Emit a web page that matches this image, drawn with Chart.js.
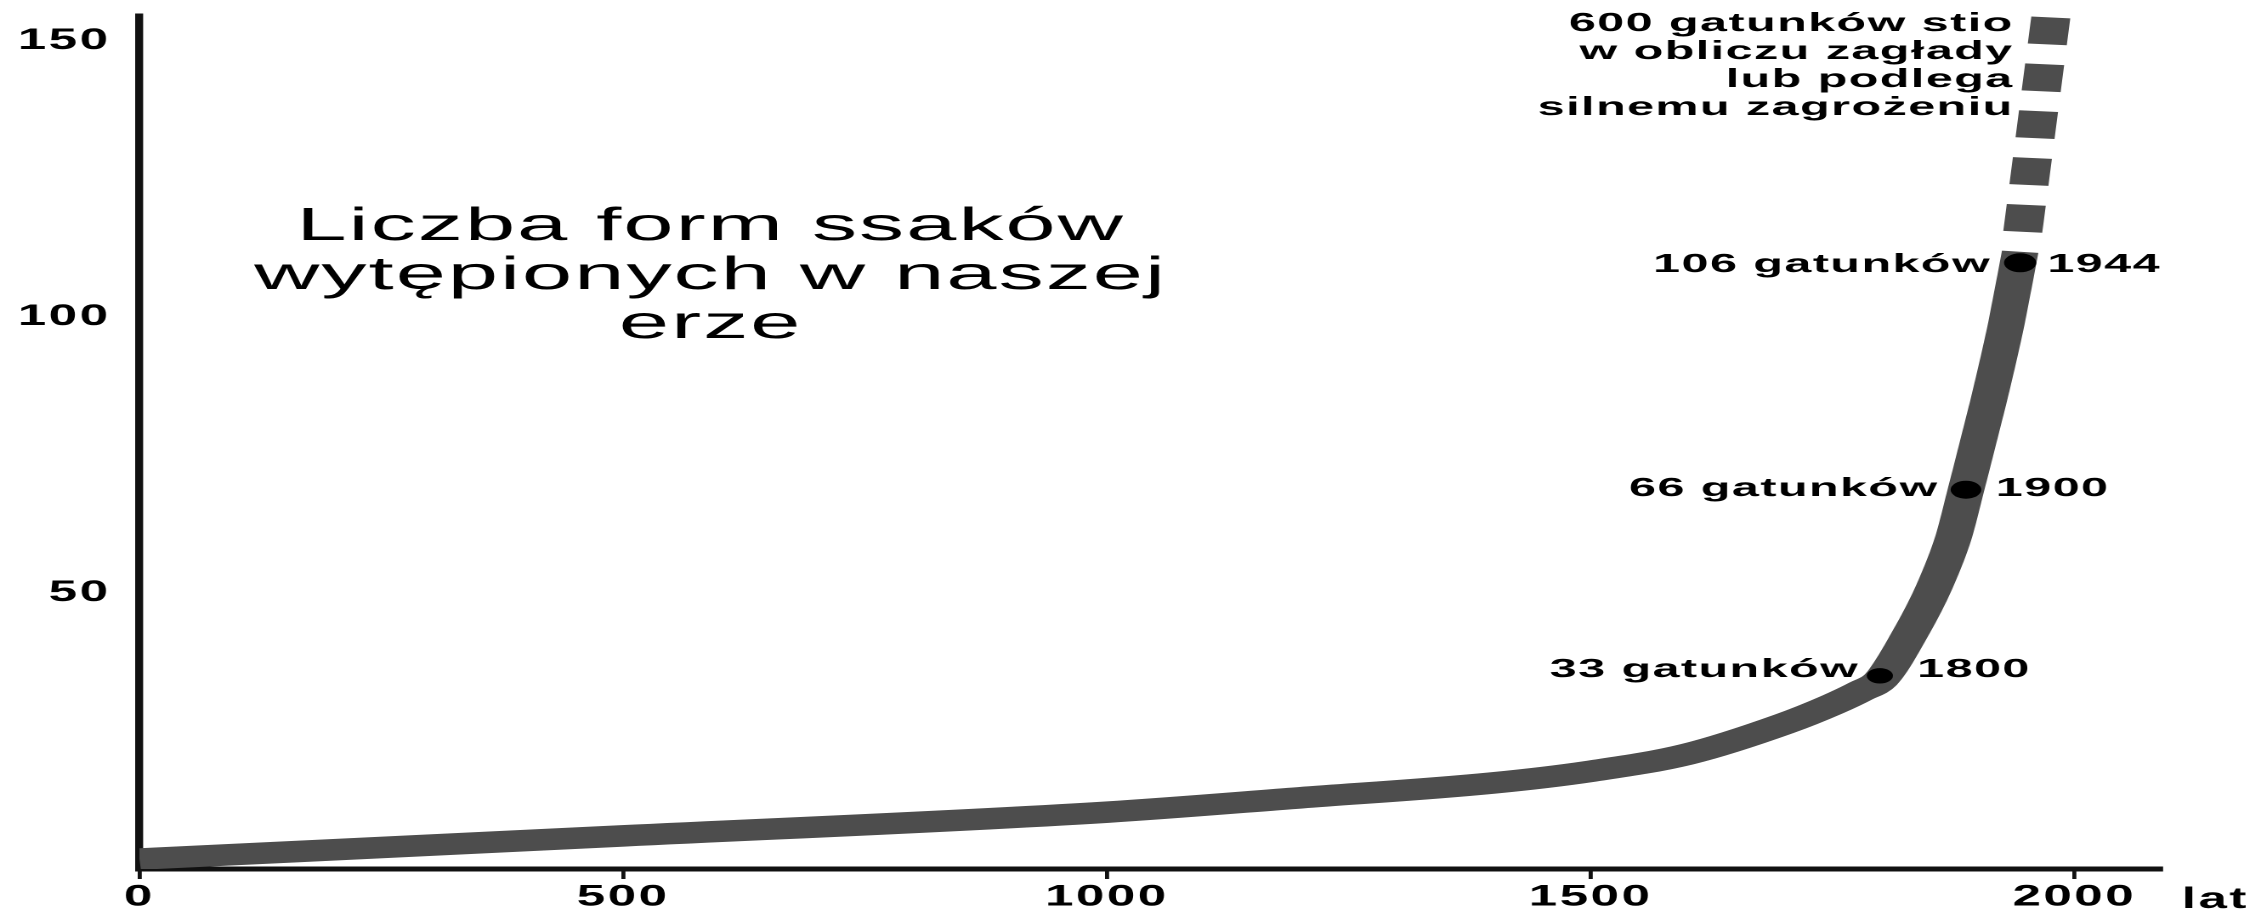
<!DOCTYPE html>
<html><head><meta charset="utf-8">
<script src="https://cdn.jsdelivr.net/npm/chart.js@4.4.1/dist/chart.umd.min.js"></script>
<style>
html,body{margin:0;padding:0;background:#fff;overflow:hidden;width:2266px;height:912px}
#wrap{position:absolute;left:0;top:0;width:1333px;height:912px;transform:scaleX(1.7);transform-origin:0 0}
</style></head><body>
<div id="wrap"><canvas id="c"></canvas></div>
<script>
// ---- data ----
const curveYears  = [0, 500, 1000, 1200, 1400, 1500, 1600, 1700, 1750, 1780, 1800, 1830, 1855, 1875, 1888, 1911, 1930, 1944];
const curveCounts = [1.8, 6.0, 10.3, 12.9, 15.6, 17.7, 20.8, 26.3, 29.8, 32.3, 34.3, 42.5, 51, 60, 68.7, 84.5, 99, 111.8];
const projYears  = [1944, 1977];
const projCounts = [111.8, 156];
const markYears  = [1799, 1888, 1944];
const markCounts = [35, 68.7, 109.8];
const markCountLabels = ['33 gatunków', '66 gatunków', '106 gatunków'];
const markYearLabels  = ['1800', '1900', '1944'];
const xTicks = [0, 500, 1000, 1500, 2000];
const yTicks = [50, 100, 150];
const xUnit = 'lat';
const titleLines = ['Liczba form ssaków', 'wytępionych w naszej', 'erze'];
const noteLines  = ['600 gatunków stio', 'w obliczu zagłady', 'lub podlega', 'silnemu zagrożeniu'];

const FONT = '"Liberation Sans", Arial, Helvetica, sans-serif';
const toXY = (xs, ys) => xs.map((x, i) => ({x: x, y: ys[i]}));

function wideText(ctx, text, x, y, align, sx) {
  ctx.save();
  ctx.translate(x, y);
  ctx.scale(sx, 1);
  ctx.textAlign = align;
  ctx.fillText(text, 0, 0);
  ctx.restore();
}

const textPlugin = {
  id: 'texts',
  beforeDraw(chart) { chart.ctx.letterSpacing = '1.5px'; },
  afterDraw(chart) {
    const ctx = chart.ctx;
    const ca = chart.chartArea;
    ctx.save();
    ctx.fillStyle = '#000';
    ctx.textBaseline = 'alphabetic';
    // title
    ctx.font = '46px ' + FONT;
    ctx.letterSpacing = '1px';
    titleLines.forEach((t, i) => wideText(ctx, t, 418, 240 + i * 49, 'center', 1.155));
    // note near the projection
    ctx.font = 'bold 26px ' + FONT;
    ctx.letterSpacing = '0.8px';
    noteLines.forEach((t, i) => wideText(ctx, t, 1184.5, 31 + i * 28, 'right', 1.095));
    // labels around the marked points
    const shifts = [{l: -13, r: 22, dy: -8}, {l: -17, r: 17.6, dy: -3}, {l: -18, r: 16, dy: 0}];
    const meta = chart.getDatasetMeta(0);
    meta.data.forEach((p, i) => {
      const s = shifts[i];
      const by = p.y + s.dy + 9.3;
      wideText(ctx, markCountLabels[i], p.x + s.l + 0.9, by, 'right', 1.095);
      wideText(ctx, markYearLabels[i], p.x + s.r, by, 'left', 1.095);
    });
    // unit after the x axis
    ctx.font = 'bold 30px ' + FONT;
    ctx.letterSpacing = '1.5px';
    ctx.textAlign = 'left';
    ctx.fillText(xUnit, ca.right + 12, ca.bottom + 39);
    ctx.restore();
  }
};

new Chart(document.getElementById('c'), {
  type: 'line',
  data: {
    datasets: [
      {
        data: toXY(markYears, markCounts),
        showLine: false,
        pointRadius: [7.7, 9, 9.5],
        pointBackgroundColor: '#000',
        pointBorderWidth: 0,
        order: 0
      },
      {
        data: toXY(projYears, projCounts),
        borderColor: '#4d4d4d',
        borderWidth: 23,
        borderDash: [27, 20],
        borderDashOffset: 27,
        borderCapStyle: 'butt',
        pointRadius: 0,
        clip: false,
        order: 1
      },
      {
        data: toXY(curveYears, curveCounts),
        borderColor: '#4d4d4d',
        borderWidth: 21.5,
        borderCapStyle: 'butt',
        borderJoinStyle: 'round',
        cubicInterpolationMode: 'monotone',
        pointRadius: 0,
        order: 2
      }
    ]
  },
  options: {
    responsive: true,
    maintainAspectRatio: false,
    devicePixelRatio: 2,
    animation: false,
    events: [],
    layout: {padding: {left: 0, right: 61.6, top: 16, bottom: 0}},
    plugins: {legend: {display: false}, tooltip: {enabled: false}, title: {display: false}},
    scales: {
      x: {
        type: 'linear',
        min: 0,
        max: 2090,
        afterBuildTicks: s => { s.ticks = xTicks.map(v => ({value: v})); },
        afterFit: s => { s.height = 43; s.paddingLeft = 0; s.paddingRight = 0; },
        grid: {drawOnChartArea: false, drawTicks: true, tickLength: 10, color: '#111', lineWidth: 2.4},
        border: {display: true, color: '#111', width: 5},
        ticks: {
          callback: v => String(v),
          color: '#000',
          padding: 0,
          maxRotation: 0,
          autoSkip: false,
          font: {family: FONT, size: 30, weight: 'bold'}
        }
      },
      y: {
        type: 'linear',
        min: 0,
        max: 154.5,
        afterBuildTicks: s => { s.ticks = yTicks.map(v => ({value: v})); },
        afterFit: s => { s.width = 82; s.paddingTop = 0; s.paddingBottom = 0; },
        grid: {display: false, drawTicks: false},
        border: {display: true, color: '#111', width: 4.7},
        ticks: {
          callback: v => String(v),
          color: '#000',
          padding: 17,
          font: {family: FONT, size: 30, weight: 'bold'}
        }
      }
    }
  },
  plugins: [textPlugin]
});
</script>
</body></html>
